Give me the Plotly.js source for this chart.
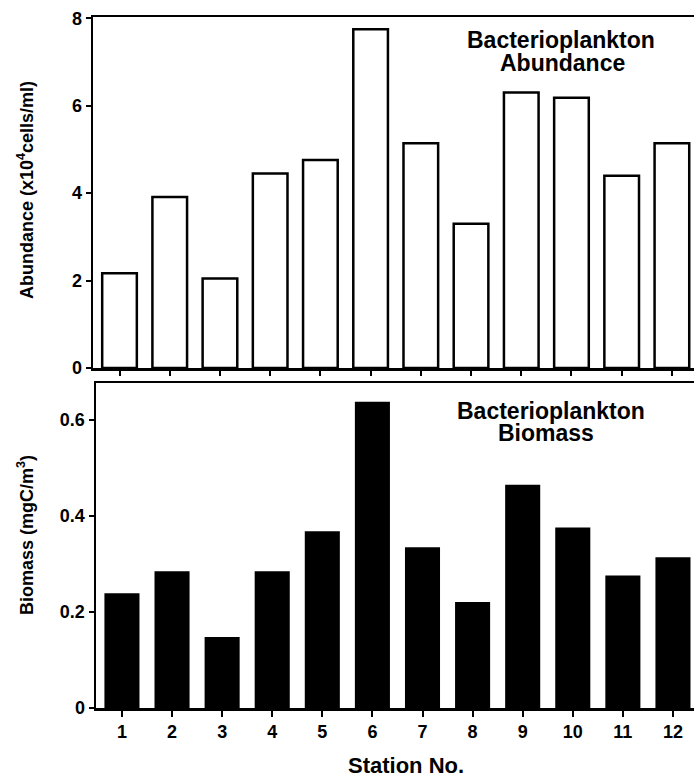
<!DOCTYPE html>
<html>
<head>
<meta charset="utf-8">
<script src="https://cdn.plot.ly/plotly-3.0.1.min.js"></script>
<style>html,body{margin:0;padding:0;background:#fff;overflow:hidden}</style>
</head>
<body>
<div id="chart" style="width:694px;height:780px"></div>
<script>
const stations = [1,2,3,4,5,6,7,8,9,10,11,12];
const stationLabels = ['1','2','3','4','5','6','7','8','9','10','11','12'];
const abundance = [2.17,3.91,2.05,4.45,4.76,7.75,5.14,3.30,6.30,6.18,4.40,5.14];
const biomass = [0.239,0.285,0.148,0.285,0.368,0.638,0.335,0.221,0.465,0.376,0.276,0.314];
const abundanceTicks = [0,2,4,6,8];
const biomassTicks = [0,0.2,0.4,0.6];
const biomassTickLabels = ['0','0.2','0.4','0.6'];

const W = 694, H = 780;
const FONT = 'Liberation Sans, Arial, Helvetica, sans-serif';
const px = v => v / W;
const py = v => (H - v) / H;

const traces = [
  {type:'bar', x:stations, y:abundance, xaxis:'x', yaxis:'y', width:0.69,
   marker:{color:'#ffffff', line:{color:'#000000', width:2.5}}, hoverinfo:'x+y'},
  {type:'bar', x:stations, y:biomass, xaxis:'x2', yaxis:'y2', width:0.70,
   marker:{color:'#000000', line:{color:'#000000', width:0}}, hoverinfo:'x+y'}
];

const axisCommon = {showline:true, linecolor:'#000', linewidth:2.5, showgrid:false, zeroline:false,
  ticks:'outside', tickcolor:'#000', tickwidth:2, fixedrange:true,
  tickfont:{family:FONT, size:18, color:'#000', weight:'bold'}};

const titleFont = {family:FONT, size:23, color:'#000', weight:'bold'};

const layout = {
  width:W, height:H, margin:{l:0,r:0,t:0,b:0},
  paper_bgcolor:'#fff', plot_bgcolor:'#fff', showlegend:false, bargap:0.3,
  font:{family:FONT, color:'#000'},
  xaxis:Object.assign({}, axisCommon, {domain:[px(93),1], range:[0.472,12.44], anchor:'y',
    mirror:true, tickvals:stations, ticktext:stationLabels, showticklabels:false, ticklen:5}),
  yaxis:Object.assign({}, axisCommon, {domain:[py(368),py(17)], range:[0,8.03], anchor:'x',
    tickvals:abundanceTicks, ticklen:5}),
  xaxis2:Object.assign({}, axisCommon, {domain:[px(96),1], range:[0.482,12.42], anchor:'y2',
    mirror:true, tickvals:stations, ticktext:stationLabels, ticklen:6}),
  yaxis2:Object.assign({}, axisCommon, {domain:[py(708),py(383)], range:[0,0.677], anchor:'x2',
    tickvals:biomassTicks, ticktext:biomassTickLabels, ticklen:5}),
  annotations:[
    {text:'Bacterioplankton', xref:'paper', yref:'paper', x:px(561), y:py(40), showarrow:false,
     xanchor:'center', yanchor:'middle', font:titleFont},
    {text:'Abundance', xref:'paper', yref:'paper', x:px(562), y:py(63), showarrow:false,
     xanchor:'center', yanchor:'middle', font:titleFont},
    {text:'Bacterioplankton', xref:'paper', yref:'paper', x:px(551), y:py(410.5), showarrow:false,
     xanchor:'center', yanchor:'middle', font:titleFont},
    {text:'Biomass', xref:'paper', yref:'paper', x:px(546), y:py(433), showarrow:false,
     xanchor:'center', yanchor:'middle', font:titleFont},
    {text:'Abundance (x10<sup>4</sup>cells/ml)', xref:'paper', yref:'paper', x:px(25), y:py(190),
     showarrow:false, textangle:-90, xanchor:'center', yanchor:'middle',
     font:{family:FONT, size:18, color:'#000', weight:'bold'}},
    {text:'Biomass (mgC/m<sup>3</sup>)', xref:'paper', yref:'paper', x:px(25), y:py(535),
     showarrow:false, textangle:-90, xanchor:'center', yanchor:'middle',
     font:{family:FONT, size:18, color:'#000', weight:'bold'}},
    {text:'Station No.', xref:'paper', yref:'paper', x:px(406), y:0, showarrow:false,
     xanchor:'center', yanchor:'bottom', font:{family:FONT, size:22, color:'#000', weight:'bold'}}
  ]
};

Plotly.newPlot('chart', traces, layout, {displayModeBar:false, staticPlot:true});
</script>
</body>
</html>
